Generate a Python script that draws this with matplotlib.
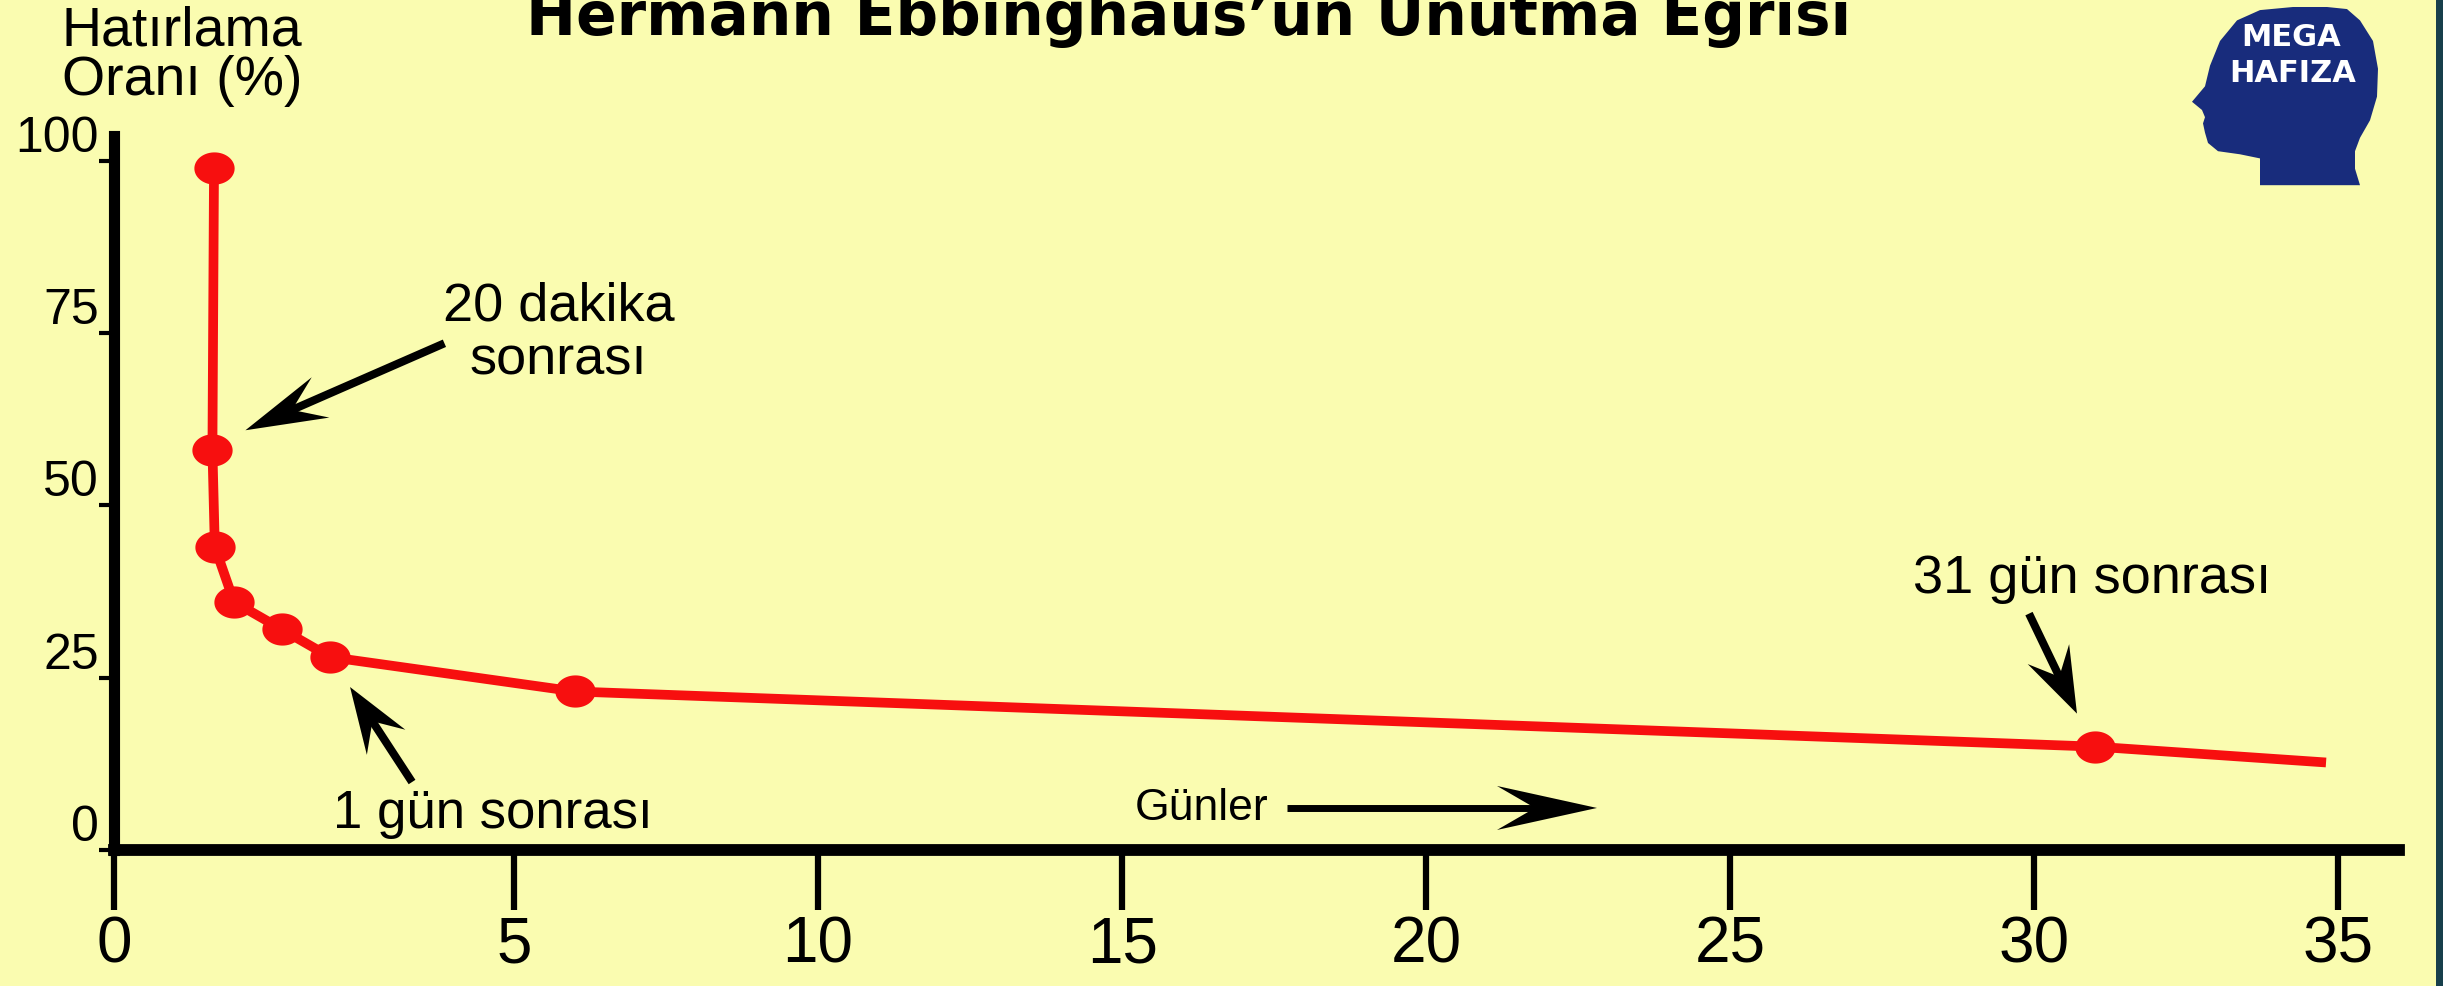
"""Hermann Ebbinghaus unutma eğrisi grafiği."""

import matplotlib

matplotlib.use("Agg")
import matplotlib.pyplot as plt
import numpy as np
from matplotlib.lines import Line2D
from matplotlib.patches import Polygon, Rectangle
from matplotlib.path import Path
from matplotlib.ticker import FixedLocator
from matplotlib.transforms import IdentityTransform

plt.rcParams["font.family"] = ["Liberation Sans", "DejaVu Sans"]

# veri
gunler = [1.25, 1.23, 1.26, 1.5, 2.1, 2.7, 6.0, 31.0, 34.8]
hatirlama = [99, 58, 44, 36, 32, 28, 23, 15, 12.7]
isaretli_noktalar = [0, 1, 2, 3, 4, 5, 6, 7]
x_tikler = [0, 5, 10, 15, 20, 25, 30, 35]
y_tikler = [0, 25, 50, 75, 100]
y_tik_etiketleri = ["0", "25", "50", "75", "100"]

ARKA = "#fafcb0"
KIRMIZI = "#f70f0f"
W, H = 2443, 987

# x ekseninde 0-5 arası daha geniş çizilmiş
k = 1.316


def ileri(x):
    x = np.asarray(x, dtype=float)
    return np.where(x < 5, x * k, 5 * k + x - 5)


def geri(u):
    u = np.asarray(u, dtype=float)
    return np.where(u < 5 * k, u / k, u - 5 * k + 5)


fig = plt.figure(figsize=(W / 100, H / 100), dpi=100, facecolor=ARKA)
ax = fig.add_axes([114 / W, 136 / H, (2399 - 114) / W, (851 - 137) / H])
ax.set_facecolor("none")
ax.set_xscale("function", functions=(ileri, geri))
ax.set_xlim(0, 36.0)
ax.set_ylim(0, 103.6)

# elips işaretçi
t = np.linspace(0, 2 * np.pi, 60)
elips = Path(np.column_stack([np.cos(t), 0.8 * np.sin(t)]), closed=True)
ax.plot(gunler, hatirlama, color=KIRMIZI, lw=7, marker=elips, markersize=29,
        markevery=isaretli_noktalar, markeredgewidth=0, solid_capstyle="butt", zorder=3)

for s in ["top", "right"]:
    ax.spines[s].set_visible(False)
ax.spines["left"].set_linewidth(8)
ax.spines["bottom"].set_linewidth(8.5)

ax.xaxis.set_major_locator(FixedLocator(x_tikler))
ax.set_xticklabels([str(v) for v in x_tikler], fontsize=46)
ax.tick_params(axis="x", length=43, width=4.5, pad=3.5, direction="out")
ax.set_yticks(y_tikler)
ax.set_yticklabels(y_tik_etiketleri, fontsize=36, va="bottom")
ax.tick_params(axis="y", length=11, width=3, pad=0, direction="out")
ax.xaxis.set_minor_locator(FixedLocator([]))


def ok_ciz(bas, uc, L, G, kalinlik):
    """Ekran pikselinde, geriye kıvrık uçlu siyah ok."""
    bas, uc = np.asarray(bas, float), np.asarray(uc, float)
    d = (uc - bas) / np.hypot(*(uc - bas))
    n = np.array([-d[1], d[0]])
    arka = uc - L * d
    centik = uc - 0.62 * L * d
    kose = [uc, arka + G / 2 * n, centik, arka - G / 2 * n]
    fig.add_artist(Polygon(kose, closed=True, transform=IdentityTransform(),
                           facecolor="black", edgecolor="none"))
    son = uc - 0.5 * L * d
    fig.add_artist(Line2D([bas[0], son[0]], [bas[1], son[1]], transform=IdentityTransform(),
                          lw=kalinlik, color="black", solid_capstyle="butt"))


def nokta_oku(i, uc_ofset, bas_ofset, L, G):
    # ofsetler piksel cinsinden, y aşağı doğru
    p = ax.transData.transform((gunler[i], hatirlama[i]))
    uc = p + np.array([uc_ofset[0], -uc_ofset[1]])
    bas = p + np.array([bas_ofset[0], -bas_ofset[1]])
    ok_ciz(bas, uc, L, G, 5.8)


# oklar ve açıklamalar
nokta_oku(1, (33, -20), (232, -107), 82, 44)
ax.text(5.73, 75.1, "20 dakika\nsonrası", fontsize=39, ha="center", va="center",
        linespacing=1.1)

nokta_oku(5, (20, 30), (82, 125), 66, 46)
ax.text(4.73, 5.4, "1 gün sonrası", fontsize=38, ha="center", va="center")

nokta_oku(7, (-18, -33), (-66, -133), 66, 46)
ax.text(30.95, 39.4, "31 gün sonrası", fontsize=39, ha="center", va="center")

ax.text(15.2, 6.1, "Günler", fontsize=32, ha="left", va="center")
ok_ciz(ax.transData.transform((17.71, 6.1)), ax.transData.transform((22.81, 6.1)), 100, 44, 5)

# başlık ve eksen adı (başlık orijinalde yatayda geniş, üstü hafif kesik)
fig.text(1189 / W, 1 - 35 / H, "Hermann Ebbinghaus’un Unutma Eğrisi", fontsize=43,
         fontweight="bold", family="DejaVu Sans", ha="center", va="baseline")
fig.text(62 / W, 1 - 56 / H, "Hatırlama\nOranı (%)", fontsize=40, ha="left", va="center",
         linespacing=0.95)

# logo: kafa silueti
kafa = [(2260, 3), (2293, 0), (2327, 0), (2347, 2), (2360, 13), (2373, 33), (2378, 60),
        (2377, 87), (2370, 110), (2360, 127), (2355, 140), (2355, 157), (2360, 173),
        (2260, 173), (2260, 147), (2240, 143), (2218, 140), (2208, 132), (2205, 122),
        (2203, 113), (2205, 107), (2202, 100), (2192, 92), (2205, 77), (2210, 57),
        (2220, 33), (2237, 13)]
kafa = [(x, 8 + 1.03 * y) for x, y in kafa]
fig.patches.append(Polygon([(x / W, 1 - y / H) for x, y in kafa], closed=True,
                           transform=fig.transFigure, facecolor="#182c7c", edgecolor="none"))
fig.text(2291 / W, 1 - 38 / H, "MEGA", fontsize=22, fontweight="bold", color="white",
         family="DejaVu Sans", ha="center", va="center")
fig.text(2293 / W, 1 - 73 / H, "HAFIZA", fontsize=22, fontweight="bold", color="white",
         family="DejaVu Sans", ha="center", va="center")

# sağ kenar çizgisi
fig.patches.append(Rectangle((2436 / W, 0), 7 / W, 1, transform=fig.transFigure,
                             facecolor="#173f4b", edgecolor="none"))

plt.savefig("out.png", dpi=100, facecolor=ARKA)
